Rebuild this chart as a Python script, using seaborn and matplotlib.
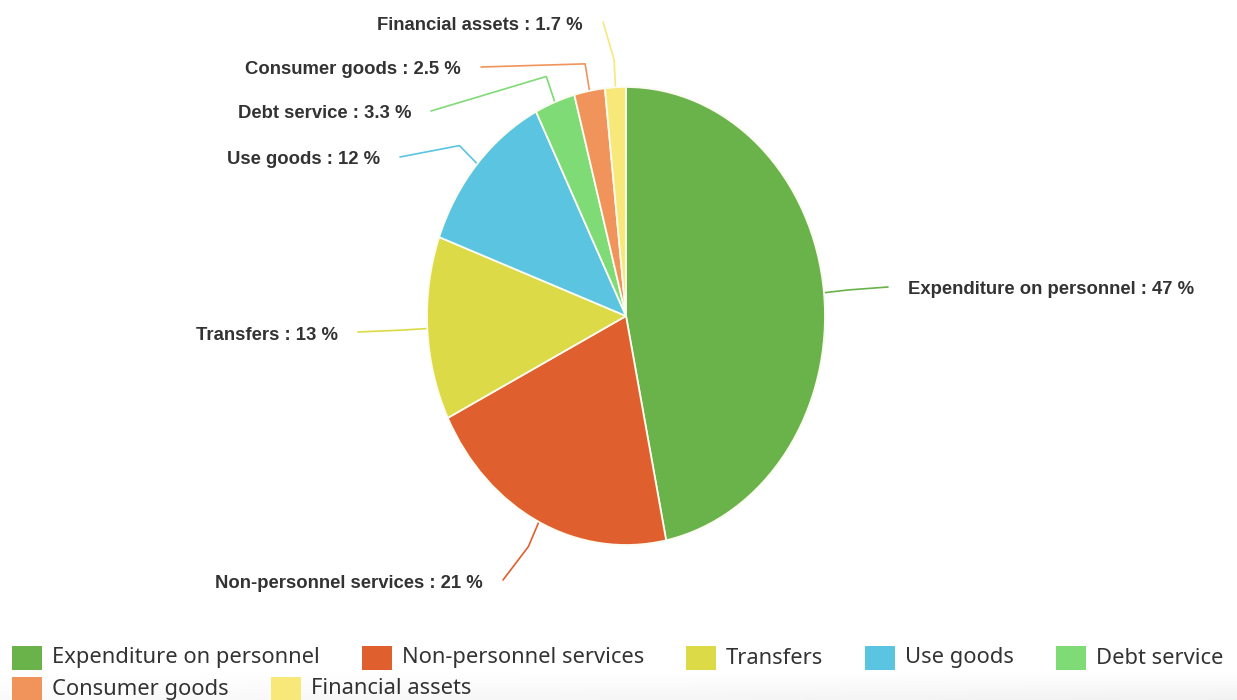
import matplotlib
matplotlib.use("Agg")
import matplotlib.pyplot as plt
import seaborn as sns
import numpy as np
from matplotlib.patches import Rectangle

# Budget breakdown by expenditure type (percent)
categories = [
    "Expenditure on personnel",
    "Non-personnel services",
    "Transfers",
    "Use goods",
    "Debt service",
    "Consumer goods",
    "Financial assets",
]
shares = [47, 21, 13, 12, 3.3, 2.5, 1.7]
share_labels = ["47", "21", "13", "12", "3.3", "2.5", "1.7"]

colors = ["#6ab24a", "#e05f2e", "#dcdb47", "#5bc4e0", "#7edb76", "#f0945b", "#f8e87a"]

sns.set_theme(style="white")
plt.rcParams["font.family"] = ["Liberation Sans", "DejaVu Sans"]

W, H = 1237, 700
fig = plt.figure(figsize=(W / 100, H / 100), dpi=100)
fig.patch.set_facecolor("white")

# Elliptical pie: its own axes with unequal aspect
cx, cy, rx, ry = 626, 316, 199, 229
ax_pie = fig.add_axes([(cx - rx) / W, (H - cy - ry) / H, 2 * rx / W, 2 * ry / H])
wedges, _ = ax_pie.pie(
    shares,
    colors=colors,
    startangle=90,
    counterclock=False,
    wedgeprops=dict(edgecolor="#fbfbf0", linewidth=1.3),
)
ax_pie.set_aspect("auto")
ax_pie.set_xlim(-1, 1)
ax_pie.set_ylim(-1, 1)
ax_pie.axis("off")

# Overlay in pixel coordinates for labels, connectors and legend
ov = fig.add_axes([0, 0, 1, 1], zorder=-1)
ov.set_xlim(0, W)
ov.set_ylim(H, 0)
ov.axis("off")

# Soft grey shading along the bottom edge behind the legend
yy = np.linspace(0, 1, 40)[:, None]
xx = np.linspace(0, 1, 200)[None, :]
shade = np.clip(yy, 0, 1) * (0.35 + 0.65 * xx)
ov.imshow(shade, extent=(0, W, H, 672), cmap="Greys", vmin=0, vmax=9,
          aspect="auto", zorder=0, interpolation="bilinear")
ov.set_xlim(0, W)
ov.set_ylim(H, 0)

to_px = ax_pie.transData + ov.transData.inverted()

# Label anchor positions (x, y, alignment)
label_pos = [
    (908, 290, "left"),
    (483, 583, "right"),
    (338, 335, "right"),
    (380, 160, "right"),
    (411, 114, "right"),
    (461, 70, "right"),
    (583, 25, "right"),
]

for w, cat, lab, col, (lx, ly, ha) in zip(wedges, categories, share_labels, colors, label_pos):
    mid = np.deg2rad((w.theta1 + w.theta2) / 2)
    edge = to_px.transform((np.cos(mid), np.sin(mid)))
    bend = to_px.transform((1.12 * np.cos(mid), 1.12 * np.sin(mid)))
    end = (lx - 20, ly - 3) if ha == "left" else (lx + 20, ly - 3)
    ov.plot([edge[0], bend[0], end[0]], [edge[1], bend[1], end[1]],
            color=col, lw=1.2, solid_capstyle="round", solid_joinstyle="round", zorder=2)
    ov.text(lx, ly, f"{cat} : {lab} %", ha=ha, va="center",
            fontsize=13.3, fontweight="bold", color="#333333", zorder=3)

# Legend laid out as a wrapping row of swatches
fig.canvas.draw()
renderer = fig.canvas.get_renderer()
x, row_y = 12, 658
sw_w, sw_h, gap, spacing = 30, 24, 10, 42
for cat, col in zip(categories, colors):
    t = ov.text(0, row_y, cat, ha="left", va="center", fontsize=15.8,
                family=["Noto Sans", "DejaVu Sans"], color="#333333", zorder=3)
    tw = t.get_window_extent(renderer).width
    if x + sw_w + gap + tw > W:
        x, row_y = 12, row_y + 31
        t.set_y(row_y)
    ov.add_patch(Rectangle((x, row_y - sw_h / 2), sw_w, sw_h, color=col, lw=0, zorder=3))
    t.set_x(x + sw_w + gap)
    x += sw_w + gap + tw + spacing

fig.savefig("out.png", dpi=100, facecolor="white")
